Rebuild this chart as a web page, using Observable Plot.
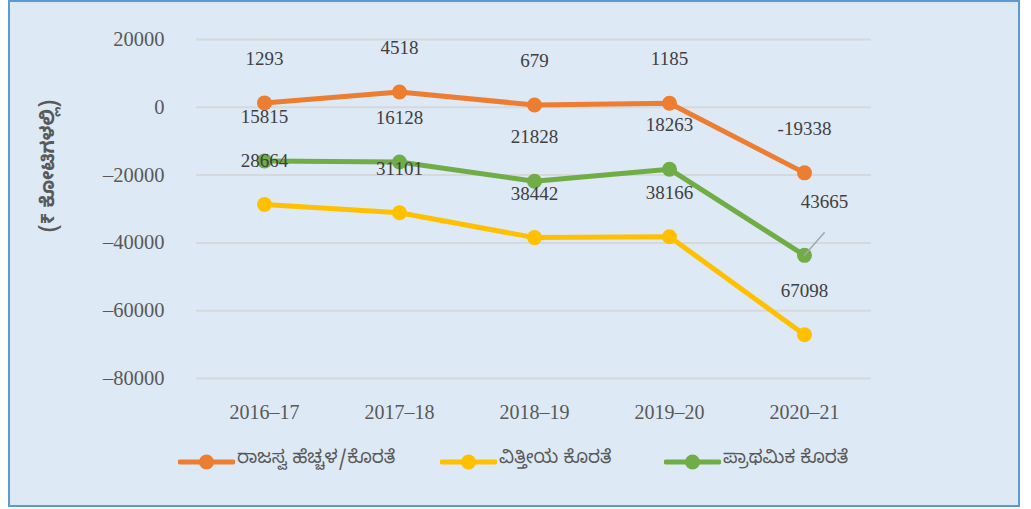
<!DOCTYPE html>
<html>
<head>
<meta charset="utf-8">
<script src="https://cdn.jsdelivr.net/npm/d3@7"></script>
<script src="https://cdn.jsdelivr.net/npm/@observablehq/plot@0.6"></script>
<style>
  html, body { margin: 0; padding: 0; background: #ffffff; }
  #page { position: relative; width: 1031px; height: 509px; overflow: hidden; }
  #frame { position: absolute; left: 8px; top: 0px; width: 1012px; height: 507px; box-sizing: border-box;
           border: 2px solid #5b9bd5; background: #dde9f5; }
  #chart { position: absolute; left: 0; top: 0; }
  #ylabel { position: absolute; left: 51px; top: 166px; transform: translate(-50%, -50%) rotate(-90deg);
            white-space: nowrap; font-family: "Noto Sans Kannada", "Noto Sans", "DejaVu Sans", sans-serif;
            font-size: 19px; font-weight: bold; color: #595959; }
  .leg { position: absolute; top: 448px; height: 24px; display: flex; align-items: center;
         font-family: "Noto Sans Kannada", "Noto Sans", "DejaVu Sans", sans-serif; font-size: 18.5px; color: #595959; white-space: nowrap; }
  .leg svg { margin-right: 2px; }
</style>
</head>
<body>
<div id="page">
  <div id="frame"></div>
  <div id="chart"></div>
  <div id="ylabel">(₹ ಕೋಟಿಗಳಲ್ಲಿ)</div>
  <div id="legend"></div>
</div>
<script>
// Data
const years = ["2016–17", "2017–18", "2018–19", "2019–20", "2020–21"];
const seriesNames = ["ರಾಜಸ್ವ ಹೆಚ್ಚಳ/ಕೊರತೆ", "ವಿತ್ತೀಯ ಕೊರತೆ", "ಪ್ರಾಥಮಿಕ ಕೊರತೆ"];
const seriesColors = ["#ed7d31", "#ffc000", "#70ad47"];
const revenueBalance = [1293, 4518, 679, 1185, -19338];
const fiscalDeficit = [-28664, -31101, -38442, -38166, -67098];
const primaryDeficit = [-15815, -16128, -21828, -18263, -43665];
const yTicks = [20000, 0, -20000, -40000, -60000, -80000];
const yLabel = "(₹ ಕೋಟಿಗಳಲ್ಲಿ)";

const seriesValues = [revenueBalance, fiscalDeficit, primaryDeficit];
const data = [];
seriesNames.forEach((s, i) => {
  years.forEach((y, j) => {
    const v = seriesValues[i][j];
    data.push({series: s, year: y, value: v, label: i === 0 ? (v < 0 ? "-" + Math.abs(v) : String(v)) : String(Math.abs(v))});
  });
});
const isCallout = d => d.series === seriesNames[2] && d.year === years[4];

const plot = Plot.plot({
  width: 1031,
  height: 430,
  marginLeft: 196,
  marginRight: 160,
  marginTop: 39,
  marginBottom: 52,
  style: {background: "transparent", overflow: "visible"},
  x: {type: "point", domain: years, padding: 0.5},
  y: {domain: [-80000, 20000]},
  color: {domain: seriesNames, range: seriesColors},
  marks: [
    Plot.gridY(yTicks, {stroke: "#d6d9dc", strokeOpacity: 1, strokeWidth: 2}),
    Plot.axisY(yTicks, {tickSize: 0, tickPadding: 32, label: null, fontSize: 20.5, fill: "#595959",
      fontFamily: "Liberation Serif, serif", tickFormat: d => d < 0 ? "–" + Math.abs(d) : String(d)}),
    Plot.axisX({tickSize: 0, tickPadding: 26, label: null, fontSize: 20, fill: "#595959",
      fontFamily: "Liberation Serif, serif"}),
    Plot.line(data, {x: "year", y: "value", z: "series", stroke: "series", strokeWidth: 5}),
    Plot.dot(data, {x: "year", y: "value", fill: "series", r: 7.5}),
    Plot.vector(data.filter(isCallout), {x: "year", y: "value", length: 30, rotate: 41, anchor: "start",
      stroke: "#a6a6a6", strokeWidth: 1.5,
      shape: {draw(context, l) { context.moveTo(0, 0); context.lineTo(0, -l); }}}),
    Plot.text(data.filter(d => !isCallout(d)), {x: "year", y: "value", text: "label", dy: -44,
      fontSize: 19, fill: "#404040", fontFamily: "Liberation Serif, serif"}),
    Plot.text(data.filter(isCallout), {x: "year", y: "value", text: "label", dx: 20, dy: -53,
      fontSize: 19, fill: "#404040", fontFamily: "Liberation Serif, serif"})
  ]
});
document.getElementById("chart").appendChild(plot);
document.getElementById("ylabel").textContent = yLabel;

// Legend
const legendLefts = [178, 440, 664];
const legend = document.getElementById("legend");
seriesNames.forEach((s, i) => {
  const item = document.createElement("div");
  item.className = "leg";
  item.style.left = legendLefts[i] + "px";
  item.innerHTML = `<svg width="57" height="20"><line x1="2" y1="12" x2="55" y2="12" stroke="${seriesColors[i]}" stroke-width="5" stroke-linecap="round"/><circle cx="28.5" cy="12" r="7.5" fill="${seriesColors[i]}"/></svg><span>${s}</span>`;
  legend.appendChild(item);
});
</script>
</body>
</html>
